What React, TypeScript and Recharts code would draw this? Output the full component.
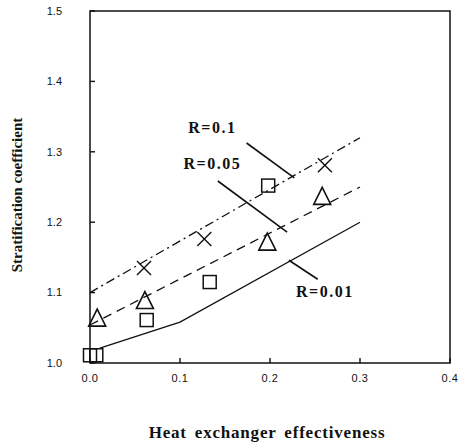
import { ComposedChart, Line, Scatter, XAxis, YAxis, ReferenceLine, ReferenceArea } from "recharts";

const xTicks = [0, 0.1, 0.2, 0.3, 0.4];
const yTicks = [1.0, 1.1, 1.2, 1.3, 1.4, 1.5];

// model curves
const curveR001 = [
  { x: 0.011, y: 1.021 },
  { x: 0.1, y: 1.058 },
  { x: 0.3, y: 1.2 },
];
const curveR005 = [
  { x: 0.0, y: 1.054 },
  { x: 0.3, y: 1.25 },
];
const curveR01 = [
  { x: 0.0, y: 1.1 },
  { x: 0.3, y: 1.32 },
];

// measured points
const crossPoints = [
  { x: 0.06, y: 1.135 },
  { x: 0.127, y: 1.176 },
  { x: 0.261, y: 1.281 },
];
const trianglePoints = [
  { x: 0.008, y: 1.062 },
  { x: 0.061, y: 1.087 },
  { x: 0.197, y: 1.17 },
  { x: 0.258, y: 1.235 },
];
const squarePoints = [
  { x: 0.0, y: 1.011 },
  { x: 0.007, y: 1.011 },
  { x: 0.063, y: 1.061 },
  { x: 0.133, y: 1.115 },
  { x: 0.198, y: 1.252 },
];

// annotation labels and leader lines
const curveLabels = [
  { x: 0.136, y: 1.335, text: "R=0.1" },
  { x: 0.136, y: 1.284, text: "R=0.05" },
  { x: 0.261, y: 1.101, text: "R=0.01" },
];
const leaders = [
  [{ x: 0.174, y: 1.3125 }, { x: 0.227, y: 1.263 }],
  [{ x: 0.142, y: 1.2585 }, { x: 0.219, y: 1.186 }],
  [{ x: 0.221, y: 1.146 }, { x: 0.253, y: 1.119 }],
];

const INK = "#111";
const SERIF = "'Liberation Serif', 'Times New Roman', serif";
const SANS = "'Liberation Sans', Arial, sans-serif";

const Triangle = (p: any) => {
  const { cx, cy } = p;
  const h = 17;
  const w = 17;
  return (
    <path
      d={`M${cx},${cy - h * 0.6} L${cx + w / 2},${cy + h * 0.4} L${cx - w / 2},${cy + h * 0.4} Z`}
      fill="none"
      stroke={INK}
      strokeWidth={1.6}
    />
  );
};

const Square = (p: any) => {
  const { cx, cy } = p;
  const s = 13;
  return <rect x={cx - s / 2} y={cy - s / 2} width={s} height={s} fill="none" stroke={INK} strokeWidth={1.5} />;
};

const Cross = (p: any) => {
  const { cx, cy } = p;
  const s = 7;
  return (
    <g stroke={INK} strokeWidth={1.4}>
      <line x1={cx - s} y1={cy - s} x2={cx + s} y2={cy + s} />
      <line x1={cx - s} y1={cy + s} x2={cx + s} y2={cy - s} />
    </g>
  );
};

const LabelText = (p: any) => (
  <text
    x={p.cx}
    y={p.cy}
    textAnchor="middle"
    dominantBaseline="central"
    fontFamily={SERIF}
    fontWeight="bold"
    fontSize={16}
    letterSpacing={1.5}
    fill={INK}
  >
    {p.payload.text}
  </text>
);

const BOTTOM_GAP = 11;
const LEFT_GAP = 28;
const TICK_LEN = 5;

const BottomTick = (p: any) => {
  const { x, y, payload } = p;
  const axisY = y - BOTTOM_GAP;
  return (
    <g>
      <line x1={x} y1={axisY} x2={x} y2={axisY - TICK_LEN} stroke={INK} strokeWidth={1.4} />
      <text x={x} y={y} dy="0.75em" textAnchor="middle" fontFamily={SANS} fontSize={11} letterSpacing={0.5} fill={INK}>
        {payload.value.toFixed(1)}
      </text>
    </g>
  );
};

const LeftTick = (p: any) => {
  const { x, y, payload } = p;
  const axisX = x + LEFT_GAP;
  return (
    <g>
      <line x1={axisX} y1={y} x2={axisX + TICK_LEN} y2={y} stroke={INK} strokeWidth={1.4} />
      <text x={x} y={y} dy="0.35em" textAnchor="end" fontFamily={SANS} fontSize={11} fill={INK}>
        {payload.value.toFixed(1)}
      </text>
    </g>
  );
};

const RightTick = (p: any) => {
  const { x, y } = p;
  return <line x1={x} y1={y} x2={x - TICK_LEN} y2={y} stroke={INK} strokeWidth={1.4} />;
};

export default function App() {
  return (
    <div style={{ position: "absolute", left: 0, top: 0, background: "#fff" }}>
      <ComposedChart width={464} height={448} margin={{ top: 11, right: 13, bottom: 55, left: 30 }}>
        <XAxis
          xAxisId="b"
          dataKey="x"
          type="number"
          domain={[0, 0.4]}
          ticks={xTicks}
          tickSize={0}
          tickMargin={BOTTOM_GAP}
          tickLine={false}
          axisLine={false}
          height={30}
          tick={BottomTick}
          interval={0}
          label={{
            content: ({ viewBox }: any) => (
              <text
                x={viewBox.x + viewBox.width / 2 - 3}
                y={438}
                textAnchor="middle"
                fontFamily={SERIF}
                fontWeight="bold"
                fontSize={17}
                letterSpacing={0.8}
                wordSpacing={3}
                fill={INK}
              >
                Heat exchanger effectiveness
              </text>
            ),
          }}
        />
        <YAxis
          yAxisId="l"
          type="number"
          domain={[1, 1.5]}
          ticks={yTicks}
          tickSize={0}
          tickMargin={LEFT_GAP}
          tickLine={false}
          axisLine={false}
          width={60}
          tick={LeftTick}
          interval={0}
          label={{
            content: () => {
              const x = 17;
              const y = 195;
              return (
                <text
                  x={x}
                  y={y}
                  transform={`rotate(-90, ${x}, ${y})`}
                  textAnchor="middle"
                  dominantBaseline="central"
                  fontFamily={SERIF}
                  fontWeight="bold"
                  fontSize={15}
                  fill={INK}
                >
                  Stratification coefficient
                </text>
              );
            },
          }}
        />
        <YAxis
          yAxisId="r"
          type="number"
          orientation="right"
          domain={[1, 1.5]}
          ticks={[1.1, 1.2, 1.3, 1.4]}
          tickSize={0}
          tickMargin={0}
          tickLine={false}
          axisLine={false}
          tick={RightTick}
          interval={0}
          width={1}
        />

        <ReferenceArea
          xAxisId="b"
          yAxisId="l"
          x1={0}
          x2={0.4}
          y1={1}
          y2={1.5}
          fill="none"
          fillOpacity={0}
          stroke={INK}
          strokeWidth={1.5}
          ifOverflow="visible"
        />

        <Line
          xAxisId="b"
          yAxisId="l"
          data={curveR001}
          dataKey="y"
          type="linear"
          stroke={INK}
          strokeWidth={1.3}
          dot={false}
          isAnimationActive={false}
        />
        <Line
          xAxisId="b"
          yAxisId="l"
          data={curveR005}
          dataKey="y"
          type="linear"
          stroke={INK}
          strokeWidth={1.3}
          strokeDasharray="9 6"
          dot={false}
          isAnimationActive={false}
        />
        <Line
          xAxisId="b"
          yAxisId="l"
          data={curveR01}
          dataKey="y"
          type="linear"
          stroke={INK}
          strokeWidth={1.3}
          strokeDasharray="9 4 2 4"
          dot={false}
          isAnimationActive={false}
        />

        {leaders.map((seg, i) => (
          <ReferenceLine
            key={i}
            xAxisId="b"
            yAxisId="l"
            segment={seg}
            stroke={INK}
            strokeWidth={1.6}
            ifOverflow="visible"
          />
        ))}

        <Scatter xAxisId="b" yAxisId="l" data={crossPoints} dataKey="y" shape={Cross} isAnimationActive={false} />
        <Scatter xAxisId="b" yAxisId="l" data={trianglePoints} dataKey="y" shape={Triangle} isAnimationActive={false} />
        <Scatter xAxisId="b" yAxisId="l" data={squarePoints} dataKey="y" shape={Square} isAnimationActive={false} />
        <Scatter xAxisId="b" yAxisId="l" data={curveLabels} dataKey="y" shape={LabelText} isAnimationActive={false} />
      </ComposedChart>
    </div>
  );
}
